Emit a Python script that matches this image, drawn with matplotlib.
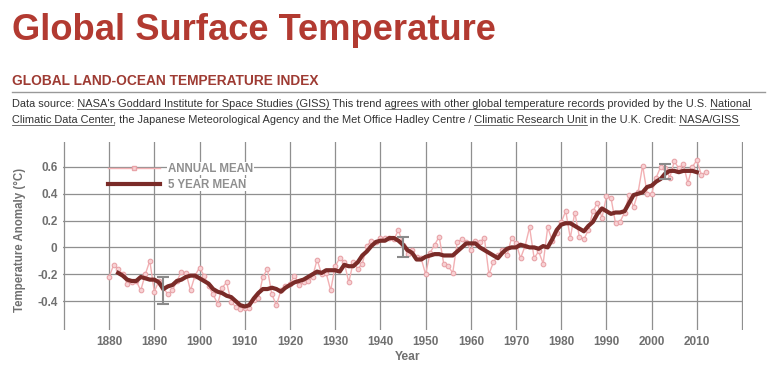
import numpy as np
import matplotlib
matplotlib.use("Agg")
import matplotlib.pyplot as plt
from matplotlib.lines import Line2D

W, H = 770, 377

# annual mean anomaly, 1880-2012
years = np.arange(1880, 2013)
annual = [
    -0.22, -0.13, -0.16, -0.20, -0.27, -0.26, -0.25, -0.32, -0.20, -0.10,
    -0.33, -0.25, -0.30, -0.35, -0.32, -0.25, -0.18, -0.19, -0.32, -0.21,
    -0.15, -0.21, -0.29, -0.35, -0.42, -0.30, -0.26, -0.41, -0.44, -0.46,
    -0.45, -0.45, -0.39, -0.38, -0.22, -0.16, -0.35, -0.43, -0.32, -0.29,
    -0.27, -0.21, -0.28, -0.26, -0.25, -0.22, -0.09, -0.20, -0.19, -0.32,
    -0.14, -0.08, -0.11, -0.26, -0.11, -0.16, -0.12, 0.01, 0.05, 0.04,
    0.07, 0.07, 0.07, 0.06, 0.13, 0.02, -0.05, -0.02, -0.07, -0.08,
    -0.20, -0.04, 0.02, 0.08, -0.12, -0.14, -0.19, 0.04, 0.06, 0.04,
    -0.02, 0.05, 0.04, 0.07, -0.20, -0.11, -0.06, -0.02, -0.06, 0.07,
    0.03, -0.08, 0.01, 0.15, -0.08, -0.03, -0.12, 0.15, 0.05, 0.11,
    0.19, 0.27, 0.07, 0.26, 0.08, 0.06, 0.13, 0.27, 0.33, 0.22,
    0.38, 0.37, 0.18, 0.19, 0.26, 0.39, 0.30, 0.41, 0.61, 0.40,
    0.40, 0.52, 0.60, 0.59, 0.52, 0.64, 0.59, 0.62, 0.48, 0.60,
    0.65, 0.54, 0.56,
]

# 5 year mean, 1882-2010
years5 = np.arange(1882, 2011)
mean5 = [
    -0.19, -0.21, -0.24, -0.25, -0.25, -0.22, -0.23, -0.24,
    -0.24, -0.26, -0.31, -0.29, -0.28, -0.25, -0.24, -0.22, -0.21, -0.21,
    -0.23, -0.25, -0.27, -0.31, -0.33, -0.34, -0.36, -0.37, -0.40, -0.43,
    -0.44, -0.43, -0.38, -0.34, -0.31, -0.31, -0.30, -0.31, -0.33, -0.30,
    -0.28, -0.26, -0.25, -0.24, -0.22, -0.20, -0.18, -0.19, -0.17, -0.17,
    -0.17, -0.18, -0.13, -0.14, -0.14, -0.11, -0.06, -0.03, 0.01, 0.04,
    0.05, 0.05, 0.07, 0.07, 0.05, 0.02, -0.02, -0.04, -0.09, -0.09,
    -0.07, -0.06, -0.05, -0.05, -0.06, -0.06, -0.06, -0.03, 0.00, 0.03,
    0.03, 0.03, 0.00, -0.02, -0.04, -0.06, -0.08, -0.04, -0.01, 0.00,
    0.00, 0.02, 0.01, 0.00, 0.00, -0.01, 0.01, 0.00, 0.06, 0.13,
    0.17, 0.18, 0.18, 0.16, 0.14, 0.12, 0.16, 0.19, 0.25, 0.29,
    0.27, 0.25, 0.26, 0.26, 0.27, 0.33, 0.39, 0.40, 0.41, 0.45,
    0.46, 0.49, 0.51, 0.55, 0.57, 0.57, 0.56, 0.57, 0.57, 0.57,
    0.56,
]

# uncertainty bars
err_years = [1892, 1945, 2003]
err_mid = [-0.32, 0.005, 0.565]
err_half = [0.10, 0.075, 0.055]

yticks = [-0.4, -0.2, 0, 0.2, 0.4, 0.6]
ytick_labels = ["-0.4", "-0.2", "0", "0.2", "0.4", "0.6"]
xgrid = list(range(1870, 2021, 10))
xtick_labels = [""] + [str(y) for y in range(1880, 2011, 10)] + [""]

source_lines = [
    [("Data source: ", False),
     ("NASA's Goddard Institute for Space Studies (GISS)", True),
     (" This trend ", False),
     ("agrees with other global temperature records", True),
     (" provided by the U.S. ", False),
     ("National", True)],
    [("Climatic Data Center", True),
     (", the Japanese Meteorological Agency and the Met Office Hadley Centre / ", False),
     ("Climatic Research Unit", True),
     (" in the U.K. Credit: ", False),
     ("NASA/GISS", True)],
]

plt.rcParams['font.family'] = ['Liberation Sans', 'DejaVu Sans']

fig = plt.figure(figsize=(W / 100, H / 100), dpi=100)
fig.patch.set_facecolor("white")


def fx(x):
    return x / W


def fy(y):
    return 1 - y / H


fig.text(fx(12), fy(40), "Global Surface Temperature", fontsize=26.2,
         fontweight="bold", color="#b23a31", va="baseline")
fig.text(fx(12), fy(85), "GLOBAL LAND-OCEAN TEMPERATURE INDEX", fontsize=9.9,
         fontweight="bold", color="#9e3b33", va="baseline")
fig.add_artist(Line2D([fx(12), fx(765)], [fy(92), fy(92)], color="#999999", lw=1))

# source text with underlined links
renderer = fig.canvas.get_renderer()


def text_width(s, **kw):
    t = fig.text(0, 0, s, **kw)
    w = t.get_window_extent(renderer).width
    t.remove()
    return w


src_kw = dict(fontsize=7.95, color="#333333")
bar_w = text_width("I", **src_kw)
for i, parts in enumerate(source_lines):
    base = 107 + 16 * i
    full = "".join(p[0] for p in parts)
    fig.text(fx(12), fy(base), full, va="baseline", **src_kw)
    prefix = ""
    for s, ul in parts:
        if ul:
            x0 = 12 + (text_width(prefix + "I", **src_kw) - bar_w if prefix else 0)
            x1 = x0 + text_width(s, **src_kw)
            fig.add_artist(Line2D([fx(x0), fx(x1)], [fy(base + 2)] * 2,
                                  color="#555555", lw=0.6))
        prefix += s

# plot area
left, right, top, bottom = 63, 743, 142, 330
ax = fig.add_axes([fx(left), fy(bottom), (right - left) / W, (bottom - top) / H])
ax.set_xlim(1869.8, 2020.2)
ax.set_ylim(-0.615, 0.785)
for s in ax.spines.values():
    s.set_visible(False)

ax.set_xticks(xgrid)
ax.set_xticklabels(xtick_labels)
ax.set_yticks(yticks)
ax.set_yticklabels(ytick_labels)
ax.tick_params(length=0, labelsize=8.5, labelcolor="#707070")
ax.tick_params(axis="x", pad=4)
ax.tick_params(axis="y", pad=4)
for lab in ax.get_xticklabels() + ax.get_yticklabels():
    lab.set_fontweight("bold")
ax.grid(True, color="#8f8f8f", lw=0.9)
ax.set_axisbelow(True)

ax.plot(years, annual, color="#f2b0b3", lw=1, marker="o", markersize=3.3,
        markerfacecolor="#f8d2d4", markeredgecolor="#e8a3a8", markeredgewidth=0.8,
        label="ANNUAL MEAN", zorder=3)
ax.plot(years5, mean5, color="#7a2b28", lw=3, label="5 YEAR MEAN", zorder=4)
ax.errorbar(err_years, err_mid, yerr=err_half, fmt="none", ecolor="#8a8a8a",
            elinewidth=1.5, capsize=4, capthick=1.5, zorder=5)

ax.set_xlabel("Year", fontsize=8.7, fontweight="bold", color="#707070")
ax.xaxis.set_label_coords(0.507, -0.11)
ax.set_ylabel("Temperature Anomaly (\u00b0C)", fontsize=8.3, fontweight="bold",
              color="#707070")
ax.yaxis.set_label_coords(-0.055, 0.48)

# legend
h1 = Line2D([], [], color="#f2b0b3", lw=1, marker="s", markersize=3.3,
            markerfacecolor="#f8d2d4", markeredgecolor="#e8a3a8")
h2 = Line2D([], [], color="#7a2b28", lw=3)
leg = ax.legend([h1, h2], ["ANNUAL MEAN", "5 YEAR MEAN"], loc="upper left",
                bbox_to_anchor=(0.066, 0.89), frameon=False, borderpad=0,
                borderaxespad=0, handlelength=4.5, handletextpad=0.7,
                labelspacing=0.35, prop=dict(size=8.3, weight="bold"))
for t in leg.get_texts():
    t.set_color("#8f8f8f")
    t.set_bbox(dict(facecolor="white", edgecolor="none", pad=0.5))

fig.savefig("out.png", dpi=100, facecolor="white")
